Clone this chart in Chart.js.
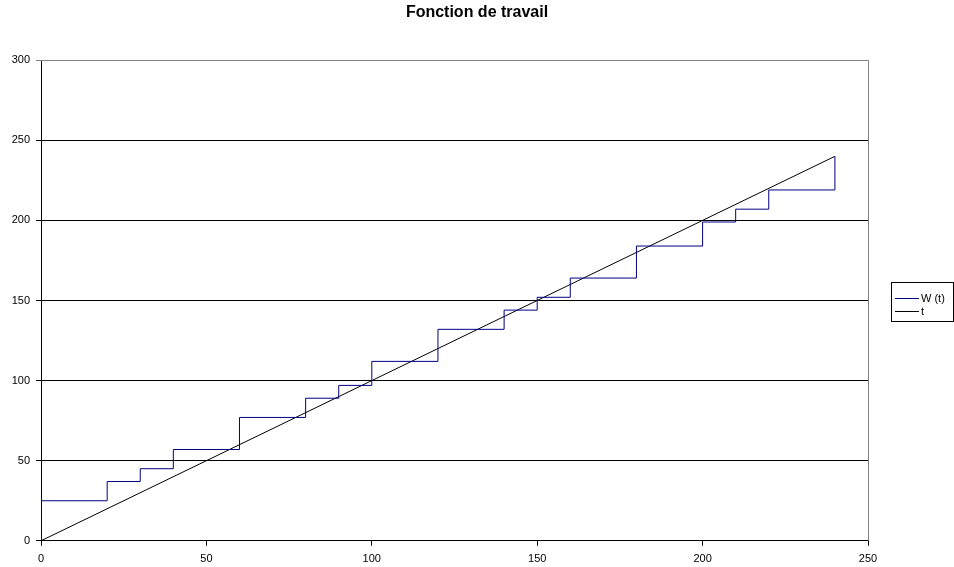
<!DOCTYPE html>
<html>
<head>
<meta charset="utf-8">
<script src="https://cdn.jsdelivr.net/npm/chart.js@4"></script>
<style>
  html, body { margin: 0; padding: 0; background: #fff; }
  #wrap { width: 954px; height: 567px; }
</style>
</head>
<body>
<div id="wrap"><canvas id="travail"></canvas></div>
<script>
// step times and W(t) values
const stepTimes = [0, 0, 20, 30, 40, 60, 80, 90, 100, 120, 140, 150, 160, 180, 200, 210, 220, 240, 240];
const workValues = [0, 25, 37, 45, 57, 77, 89, 97, 112, 132, 144, 152, 164, 184, 199, 207, 219, 219, 240];
const lineTimes = [0, 240];
const lineValues = [0, 240];
const seriesNames = ['W (t)', 't'];
const xTicks = [0, 50, 100, 150, 200, 250];
const yTicks = [0, 50, 100, 150, 200, 250, 300];

const fontFamily = '"Liberation Sans", Arial, sans-serif';

function toPoints(xs, ys) {
    return xs.map(function (x, i) { return { x: x, y: ys[i] }; });
}

// grey frame on top/right + boxed legend, like the Excel original
const frameAndLegend = {
    id: 'frameAndLegend',
    afterDraw: function (chart) {
        const ctx = chart.ctx;
        const a = chart.chartArea;
        ctx.save();
        ctx.strokeStyle = '#808080';
        ctx.lineWidth = 1;
        ctx.beginPath();
        ctx.moveTo(a.left, Math.round(a.top) + 0.5);
        ctx.lineTo(Math.round(a.right) + 0.5, Math.round(a.top) + 0.5);
        ctx.lineTo(Math.round(a.right) + 0.5, a.bottom);
        ctx.stroke();

        // legend box
        const bx = 891.5, by = 282.5, bw = 62, bh = 39;
        ctx.strokeStyle = '#000';
        ctx.strokeRect(bx, by, bw, bh);
        ctx.font = '11px ' + fontFamily;
        ctx.textBaseline = 'middle';
        ctx.fillStyle = '#000';
        chart.data.datasets.forEach(function (ds, i) {
            const y = 297.5 + i * 13.5;
            ctx.strokeStyle = ds.borderColor;
            ctx.beginPath();
            ctx.moveTo(895, Math.round(y) + 0.5);
            ctx.lineTo(919, Math.round(y) + 0.5);
            ctx.stroke();
            ctx.fillText(ds.label, 921, Math.round(y) + 0.5);
        });
        ctx.restore();
    }
};

const data = {
    datasets: [
        {
            label: seriesNames[0],
            data: toPoints(stepTimes, workValues),
            borderColor: '#000080',
            backgroundColor: '#000080',
            borderWidth: 1,
            pointRadius: 0,
            stepped: 'before',
        },
        {
            label: seriesNames[1],
            data: toPoints(lineTimes, lineValues),
            borderColor: '#000000',
            backgroundColor: '#000000',
            borderWidth: 1,
            pointRadius: 0,
        },
    ]
};

const options = {
    responsive: true,
    maintainAspectRatio: false,
    animation: false,
    layout: {
        padding: { left: 0, right: 0, top: 0, bottom: -6 }
    },
    plugins: {
        legend: { display: false },
        tooltip: { enabled: false },
        title: {
            display: true,
            text: 'Fonction de travail',
            color: '#000',
            font: { family: fontFamily, size: 16, weight: 'bold' },
            padding: { top: 3, bottom: 38 }
        }
    },
    scales: {
        x: {
            type: 'linear',
            min: 0,
            max: 250,
            afterBuildTicks: function (axis) {
                axis.ticks = xTicks.map(function (v) { return { value: v }; });
            },
            grid: {
                drawOnChartArea: false,
                drawTicks: true,
                tickLength: 5,
                color: '#000'
            },
            border: { color: '#000', width: 1 },
            ticks: {
                color: '#000',
                padding: 7,
                maxRotation: 0,
                font: { family: fontFamily, size: 11 }
            }
        },
        y: {
            min: 0,
            max: 300,
            afterBuildTicks: function (axis) {
                axis.ticks = yTicks.map(function (v) { return { value: v }; });
            },
            afterFit: function (axis) { axis.width = 41; },
            grid: {
                color: function (c) { return c.tick && c.tick.value === 300 ? '#808080' : '#000'; },
                tickLength: 5,
                lineWidth: 1
            },
            border: { color: '#000', width: 1 },
            ticks: {
                color: '#000',
                padding: 6,
                font: { family: fontFamily, size: 11 }
            }
        },
        // empty right-hand axis that only keeps room for the legend box
        legendRoom: {
            position: 'right',
            min: 0,
            max: 300,
            afterFit: function (axis) { axis.width = 86; },
            grid: { drawOnChartArea: false, drawTicks: false },
            border: { display: false },
            ticks: { display: false }
        }
    }
};

new Chart(document.getElementById('travail').getContext('2d'), {
    type: 'line',
    data: data,
    options: options,
    plugins: [frameAndLegend]
});
</script>
</body>
</html>
